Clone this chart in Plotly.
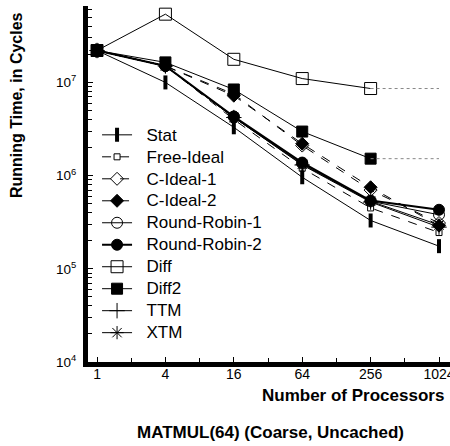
import plotly.graph_objects as go

procs = [1, 4, 16, 64, 256, 1024]
stat = [2.2e7, 1.0e7, 3.3e6, 9.6e5, 3.3e5, 1.75e5]
free_ideal = [2.2e7, 1.5e7, 4.0e6, 1.2e6, 4.5e5, 2.45e5]
c_ideal_1 = [2.2e7, 1.5e7, 7.5e6, 2.1e6, 7.0e5, 3.1e5]
c_ideal_2 = [2.2e7, 1.5e7, 7.2e6, 2.2e6, 7.5e5, 2.9e5]
round_robin_1 = [2.2e7, 1.5e7, 4.3e6, 1.35e6, 5.3e5, 3.8e5]
round_robin_2 = [2.2e7, 1.5e7, 4.3e6, 1.38e6, 5.4e5, 4.3e5]
diff = [2.2e7, 5.4e7, 1.77e7, 1.1e7, 8.6e6]
diff2 = [2.2e7, 1.64e7, 8.4e6, 2.97e6, 1.52e6]
ttm = [2.2e7, 1.5e7, 4.2e6, 1.3e6, 5.2e5, 2.8e5]
xtm = [2.2e7, 1.5e7, 4.2e6, 1.32e6, 5.3e5, 2.95e5]

x_ticks = [1, 4, 16, 64, 256, 1024]
x_minor = [2, 8, 32, 128, 512]
y_ticks = [1e4, 1e5, 1e6, 1e7]
y_labels = ["10<sup>4</sup>", "10<sup>5</sup>", "10<sup>6</sup>", "10<sup>7</sup>"]

series = [
    ("Stat", stat, "line-ns", 10, "solid", 1, 4),
    ("Free-Ideal", free_ideal, "square-open", 6, "dash", 1, 1),
    ("C-Ideal-1", c_ideal_1, "diamond-open", 10, "dash", 1, 1),
    ("C-Ideal-2", c_ideal_2, "diamond", 10, "dash", 1, 1),
    ("Round-Robin-1", round_robin_1, "circle-open", 11, "solid", 1, 1),
    ("Round-Robin-2", round_robin_2, "circle", 11, "solid", 2, 1),
    ("Diff", diff, "square-open", 12, "solid", 1, 1),
    ("Diff2", diff2, "square", 11, "solid", 1, 1),
    ("TTM", ttm, "cross-thin-open", 11, "solid", 1, 1),
    ("XTM", xtm, "asterisk-open", 11, "solid", 1, 1),
]

fig = go.Figure()
for name, vals, sym, size, dash, lw, mlw in series:
    fig.add_trace(go.Scatter(
        x=procs[:len(vals)], y=vals,
        name='<span style="font-size:17px">\u00a0\u00a0' + name + '</span>',
        mode="lines+markers",
        line=dict(color="black", width=lw, dash=dash),
        marker=dict(symbol=sym, size=size, color="black",
                    line=dict(color="black", width=mlw)),
    ))

for vals in (diff, diff2):
    fig.add_trace(go.Scatter(
        x=[procs[len(vals) - 1], procs[-1]], y=[vals[-1], vals[-1]],
        mode="lines", showlegend=False, hoverinfo="skip",
        line=dict(color="#888888", width=1, dash="dot"),
    ))

fig.update_layout(
    width=450, height=446,
    margin=dict(l=88, r=0, t=6, b=84, autoexpand=False),
    plot_bgcolor="white", paper_bgcolor="white",
    font=dict(family="Liberation Sans, Arial, sans-serif", color="black", size=12),
    showlegend=True,
    legend=dict(x=0.025, y=0.683, xanchor="left", yanchor="top",
                bgcolor="rgba(0,0,0,0)", font=dict(size=14.6), itemwidth=30),
    annotations=[
        dict(text="<b>Running Time, in Cycles</b>", xref="paper", yref="paper",
             x=-0.196, y=0.722, textangle=-90, showarrow=False,
             font=dict(size=16), xanchor="center", yanchor="middle"),
        dict(text="<b>Number of Processors</b>", xref="paper", yref="paper",
             x=0.988, y=-0.0955, showarrow=False, font=dict(size=17),
             xanchor="right", yanchor="middle"),
        dict(text="<b>MATMUL(64) (Coarse, Uncached)</b>", x=0.503, y=-0.197,
             xref="paper", yref="paper", showarrow=False, font=dict(size=17),
             xanchor="center", yanchor="middle"),
    ],
)
fig.update_xaxes(
    type="log", range=[-0.0794, 3.107], automargin=False,
    tickvals=x_ticks, ticktext=[str(v) for v in x_ticks],
    ticks="inside", ticklen=5, tickwidth=1, tickcolor="black",
    minor=dict(tickvals=x_minor, ticks="inside", ticklen=4, tickcolor="black"),
    showline=True, linewidth=5, linecolor="black",
    showgrid=False, zeroline=False, tickfont=dict(size=14),
    ticklabeloverflow="allow", ticklabelstandoff=-5,
)
fig.update_yaxes(
    type="log", range=[4, 7.82], automargin=False,
    tickvals=y_ticks, ticktext=y_labels,
    ticks="inside", ticklen=5, tickwidth=1, tickcolor="black",
    minor=dict(dtick="D1", ticks="inside", ticklen=4, tickcolor="black"),
    showline=True, linewidth=5, linecolor="black",
    showgrid=False, zeroline=False, tickfont=dict(size=13.5),
    ticklabelstandoff=4,
)

fig.write_html("out.html", config={"displayModeBar": False},
               post_script="document.body.style.margin='0px';")
